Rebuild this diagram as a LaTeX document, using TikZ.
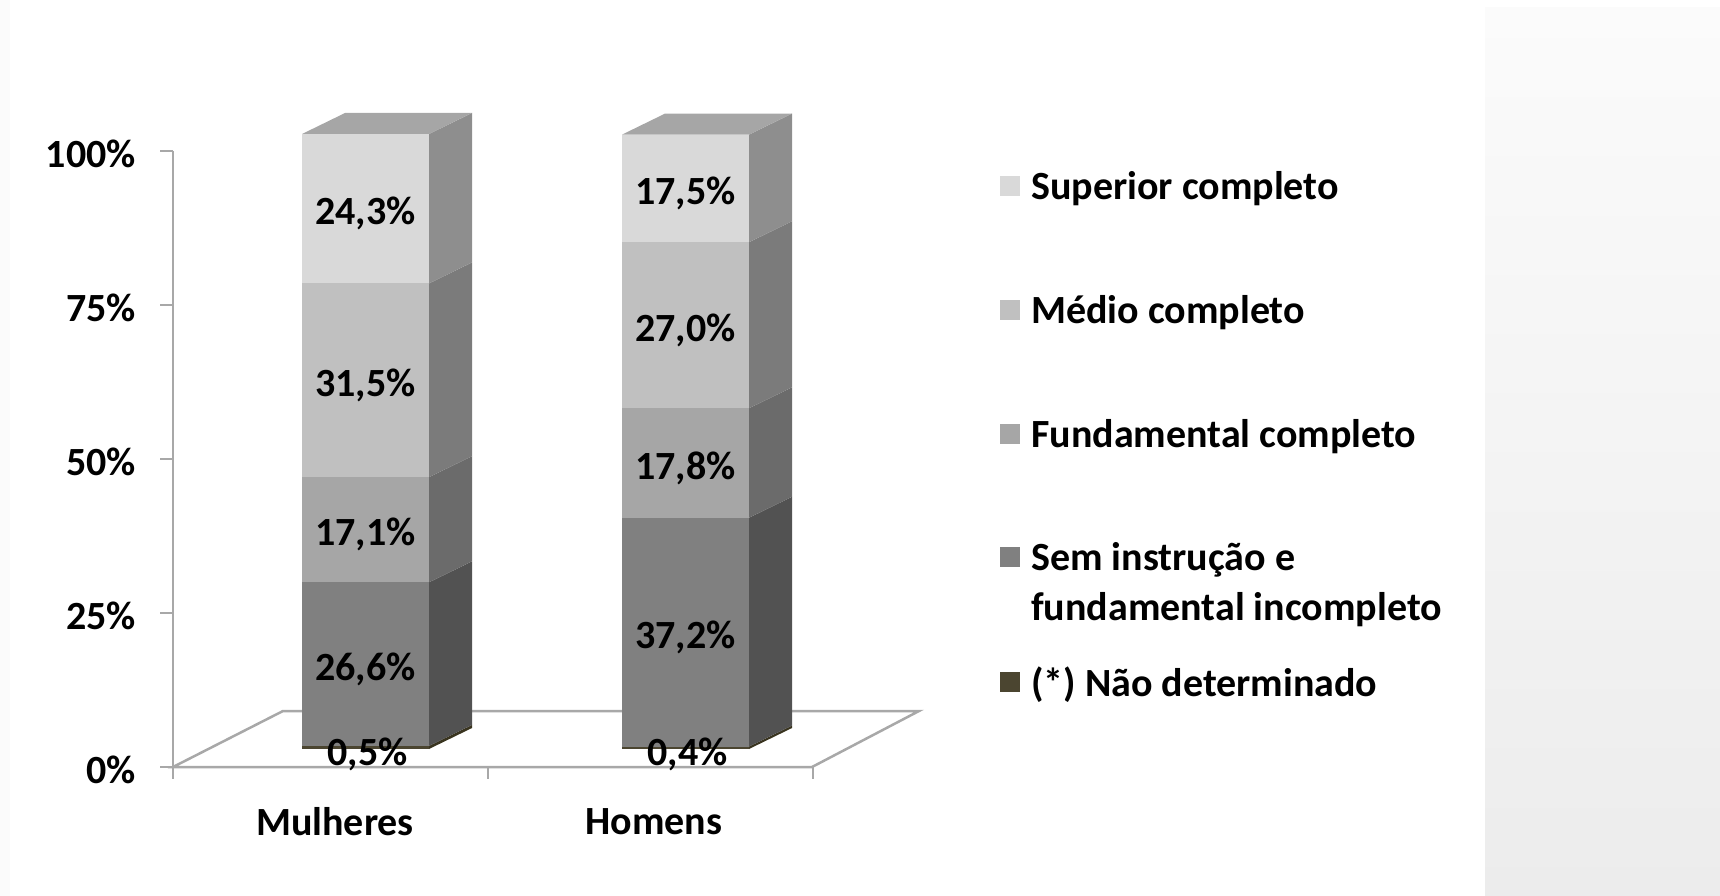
\documentclass[tikz,border=0pt]{standalone}
\usepackage{fontspec}
\setmainfont{Carlito}
\usetikzlibrary{calc}

\definecolor{supF}{HTML}{D9D9D9}
\definecolor{supS}{HTML}{8E8E8E}
\definecolor{supT}{HTML}{A6A6A6}
\definecolor{medF}{HTML}{C0C0C0}
\definecolor{medS}{HTML}{7B7B7B}
\definecolor{funF}{HTML}{A6A6A6}
\definecolor{funS}{HTML}{6B6B6B}
\definecolor{semF}{HTML}{808080}
\definecolor{semS}{HTML}{525252}
\definecolor{naoF}{HTML}{4B4530}
\definecolor{naoS}{HTML}{39341F}
\definecolor{axisgray}{HTML}{A8A8A8}
\definecolor{paneltop}{HTML}{FBFBFB}
\definecolor{panelbottom}{HTML}{ECECEC}

\tikzset{
    lbl/.style={font=\fontsize{40}{50}\selectfont\bfseries, inner sep=0pt},
    dlbl/.style={lbl, yshift=-5pt},
    axisline/.style={draw=axisgray, line width=2.5pt}
}

\begin{document}
\begin{tikzpicture}[x=1pt,y=-1pt]
\useasboundingbox (0,0) rectangle (1720,896);
\shade[top color=paneltop, bottom color=panelbottom] (1485,8) rectangle (1720,896);
\fill[paneltop] (0,0) rectangle (10,896);
% Variables: 1 := left x, 2 := from %, 3 := to %, 4 := front colour, 5 := side colour, 6 := ID.
\def\barseg(#1,#2,#3)#4#5#6{
    \fill[#4] (#1,749-6.15*#2) rectangle (#1+127,749-6.15*#3);
    \fill[#5] (#1+127,749-6.15*#2) -- (#1+170,728-6.15*#2)
        -- (#1+170,728-6.15*#3) -- (#1+127,749-6.15*#3) -- cycle;
    \coordinate (#6) at (#1+63.5,749-3.075*#2-3.075*#3);
}
% Variables: 1 := left x, 2 := top %.
\def\bartop(#1,#2){
    \fill[supT] (#1,749-6.15*#2) -- (#1+43,728-6.15*#2)
        -- (#1+170,728-6.15*#2) -- (#1+127,749-6.15*#2) -- cycle;
}
% axis
\draw[axisline] (173,151) coordinate (ytop) -- (173,767) coordinate (origin);
\foreach \i/\t in {0/0,1/25,2/50,3/75,4/100}{
    \draw[axisline] (160,767-154*\i) -- (173,767-154*\i);
    \node[lbl, anchor=east] (ylab\i) at (136,770-154*\i) {\t\%};
}
\draw[axisline] (origin) -- (283,711) coordinate (floorBL)
    -- (919,711) coordinate (floorBR) -- (812,767) coordinate (floorFR) -- cycle;
\foreach \x in {173,488,813}
    \draw[axisline] (\x,767) -- (\x,779);

% Mulheres
\barseg(302,0,0.5){naoF}{naoS}{M nao}
\barseg(302,0.5,27.1){semF}{semS}{M sem}
\barseg(302,27.1,44.2){funF}{funS}{M fun}
\barseg(302,44.2,75.7){medF}{medS}{M med}
\barseg(302,75.7,100){supF}{supS}{M sup}
\bartop(302,100)
% Homens
\barseg(622,0,0.4){naoF}{naoS}{H nao}
\barseg(622,0.4,37.6){semF}{semS}{H sem}
\barseg(622,37.6,55.4){funF}{funS}{H fun}
\barseg(622,55.4,82.4){medF}{medS}{H med}
\barseg(622,82.4,99.9){supF}{supS}{H sup}
\bartop(622,99.9)

\node[dlbl] (M sup lbl) at (M sup) {24,3\%};
\node[dlbl] (M med lbl) at (M med) {31,5\%};
\node[dlbl] (M fun lbl) at (M fun) {17,1\%};
\node[dlbl] (M sem lbl) at (M sem) {26,6\%};
\node[lbl] (M nao lbl) at ($ (M nao) + (2,7) $) {0,5\%};
\node[dlbl] (H sup lbl) at (H sup) {17,5\%};
\node[dlbl] (H med lbl) at (H med) {27,0\%};
\node[dlbl] (H fun lbl) at (H fun) {17,8\%};
\node[dlbl] (H sem lbl) at (H sem) {37,2\%};
\node[lbl] (H nao lbl) at ($ (H nao) + (2,7) $) {0,4\%};

\node[lbl] (mulheres) at (335,822) {Mulheres};
\node[lbl] (homens) at (654,822) {Homens};

% legend
\fill[supF] (1000,176) rectangle ++(20,20) coordinate (sq sup);
\fill[medF] (1000,300) rectangle ++(20,20) coordinate (sq med);
\fill[funF] (1000,424) rectangle ++(20,20) coordinate (sq fun);
\fill[semF] (1000,547) rectangle ++(20,20) coordinate (sq sem);
\fill[naoF] (1000,672) rectangle ++(20,20) coordinate (sq nao);
\node[lbl, anchor=west] (leg sup) at ($ (sq sup) + (11,-7) $) {Superior completo};
\node[lbl, anchor=west] (leg med) at ($ (sq med) + (11,-7) $) {Médio completo};
\node[lbl, anchor=west] (leg fun) at ($ (sq fun) + (11,-7) $) {Fundamental completo};
\node[lbl, anchor=west, align=left] (leg sem) at ($ (sq sem) + (11,18) $) {Sem instrução e\\fundamental incompleto};
\node[lbl, anchor=west] (leg nao) at ($ (sq nao) + (11,-7) $) {(*) Não determinado};
\end{tikzpicture}
\end{document}
